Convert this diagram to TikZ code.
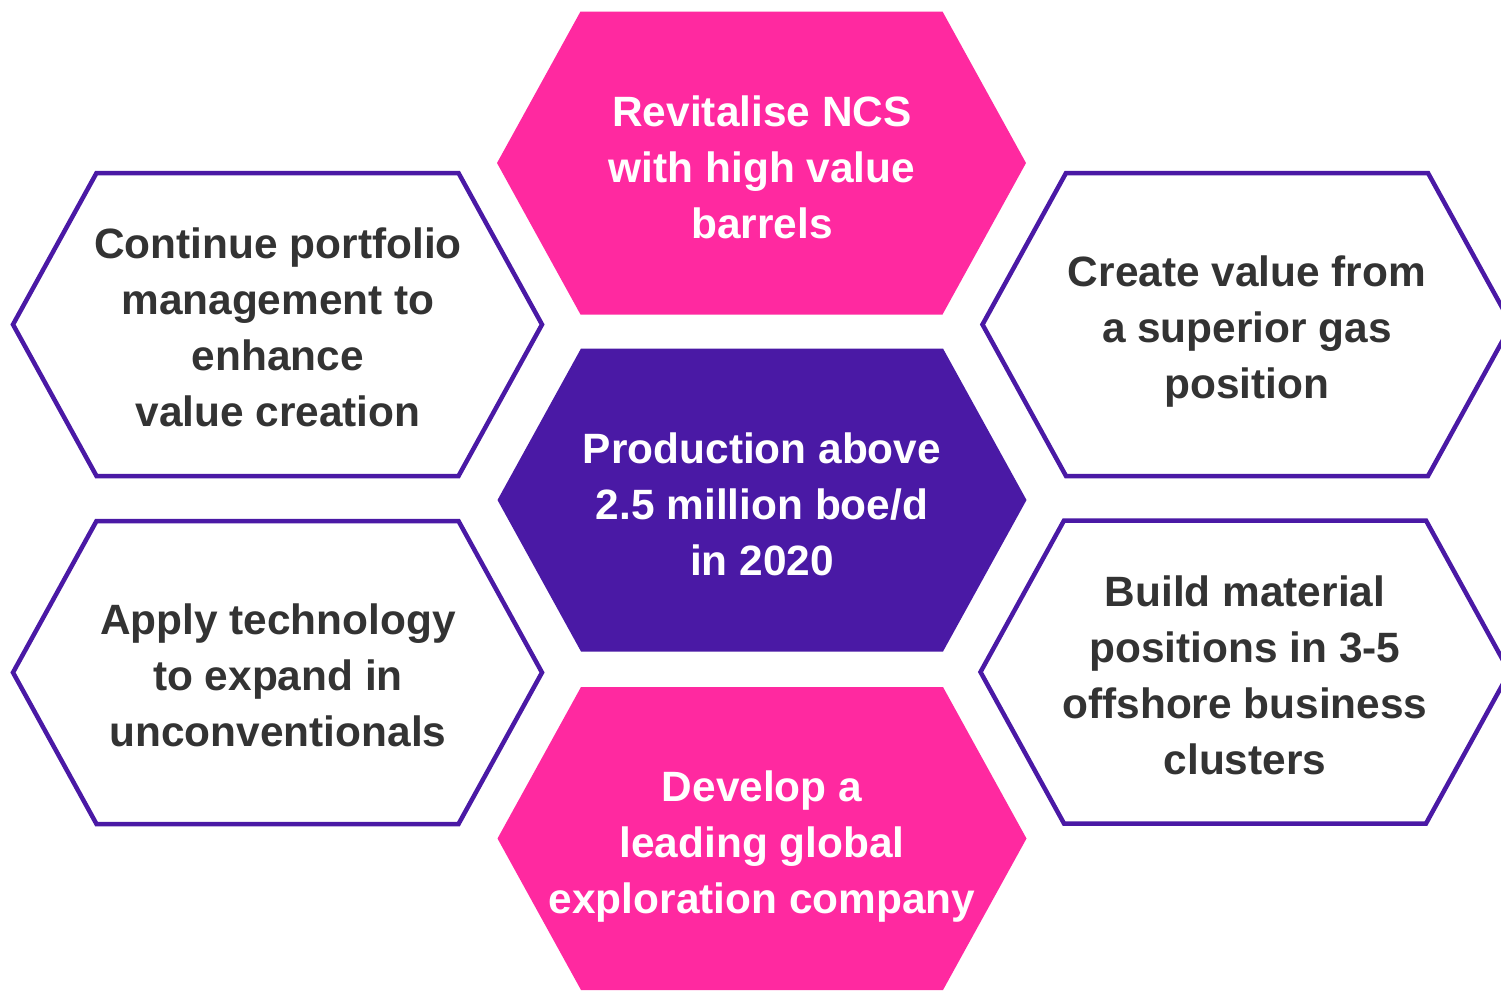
\documentclass[tikz,border=0pt]{standalone}
\usepackage{fontspec}
\setmainfont{Liberation Sans}
\definecolor{hpink}{RGB}{255,41,160}
\definecolor{hpurple}{RGB}{74,25,165}
\definecolor{htext}{RGB}{51,51,51}
\newcommand{\hexshape}[3]{% cx, cy, options
  \path[#3] (#1-264.5,#2) -- (#1-181,#2-151.5) -- (#1+181,#2-151.5) -- (#1+264.5,#2) -- (#1+181,#2+151.5) -- (#1-181,#2+151.5) -- cycle;}
\tikzset{
  filledpink/.style={fill=hpink},
  filledpurple/.style={fill=hpurple},
  outlinehex/.style={draw=hpurple,line width=4.5pt,line join=miter,fill=white},
  hextext/.style={align=center,font=\fontsize{42.4}{56}\selectfont\bfseries,inner sep=0pt},
  lighttext/.style={hextext,text=white},
  darktext/.style={hextext,text=htext}
}
\begin{document}
\begin{tikzpicture}[x=1pt,y=-1pt]
\useasboundingbox (0,0) rectangle (1501,991);
\begin{scope}
\clip (0,0) rectangle (1501,991);
\hexshape{761.5}{163}{filledpink}
\hexshape{762}{500}{filledpurple}
\hexshape{762}{838.5}{filledpink}
\hexshape{277.5}{324.5}{outlinehex}
\hexshape{277.5}{672.5}{outlinehex}
\hexshape{1247}{324.5}{outlinehex}
\hexshape{1245}{672}{outlinehex}
\end{scope}
\node[lighttext] (top) at (762,167) {Revitalise NCS\\with high value\\barrels};
\node[lighttext] (center) at (762,504) {Production above\\2.5 million boe/d\\in 2020};
\node[lighttext] (bottom) at (762,847) {Develop a\\leading global\\exploration company};
\node[darktext] (lt) at (278,327) {Continue portfolio\\management to\\enhance\\value creation};
\node[darktext] (lb) at (278,675) {Apply technology\\to expand in\\unconventionals};
\node[darktext] (rt) at (1247,332) {Create value from\\a superior gas\\position};
\node[darktext] (rb) at (1245,675) {Build material\\positions in 3-5\\offshore business\\clusters};
\end{tikzpicture}
\end{document}
